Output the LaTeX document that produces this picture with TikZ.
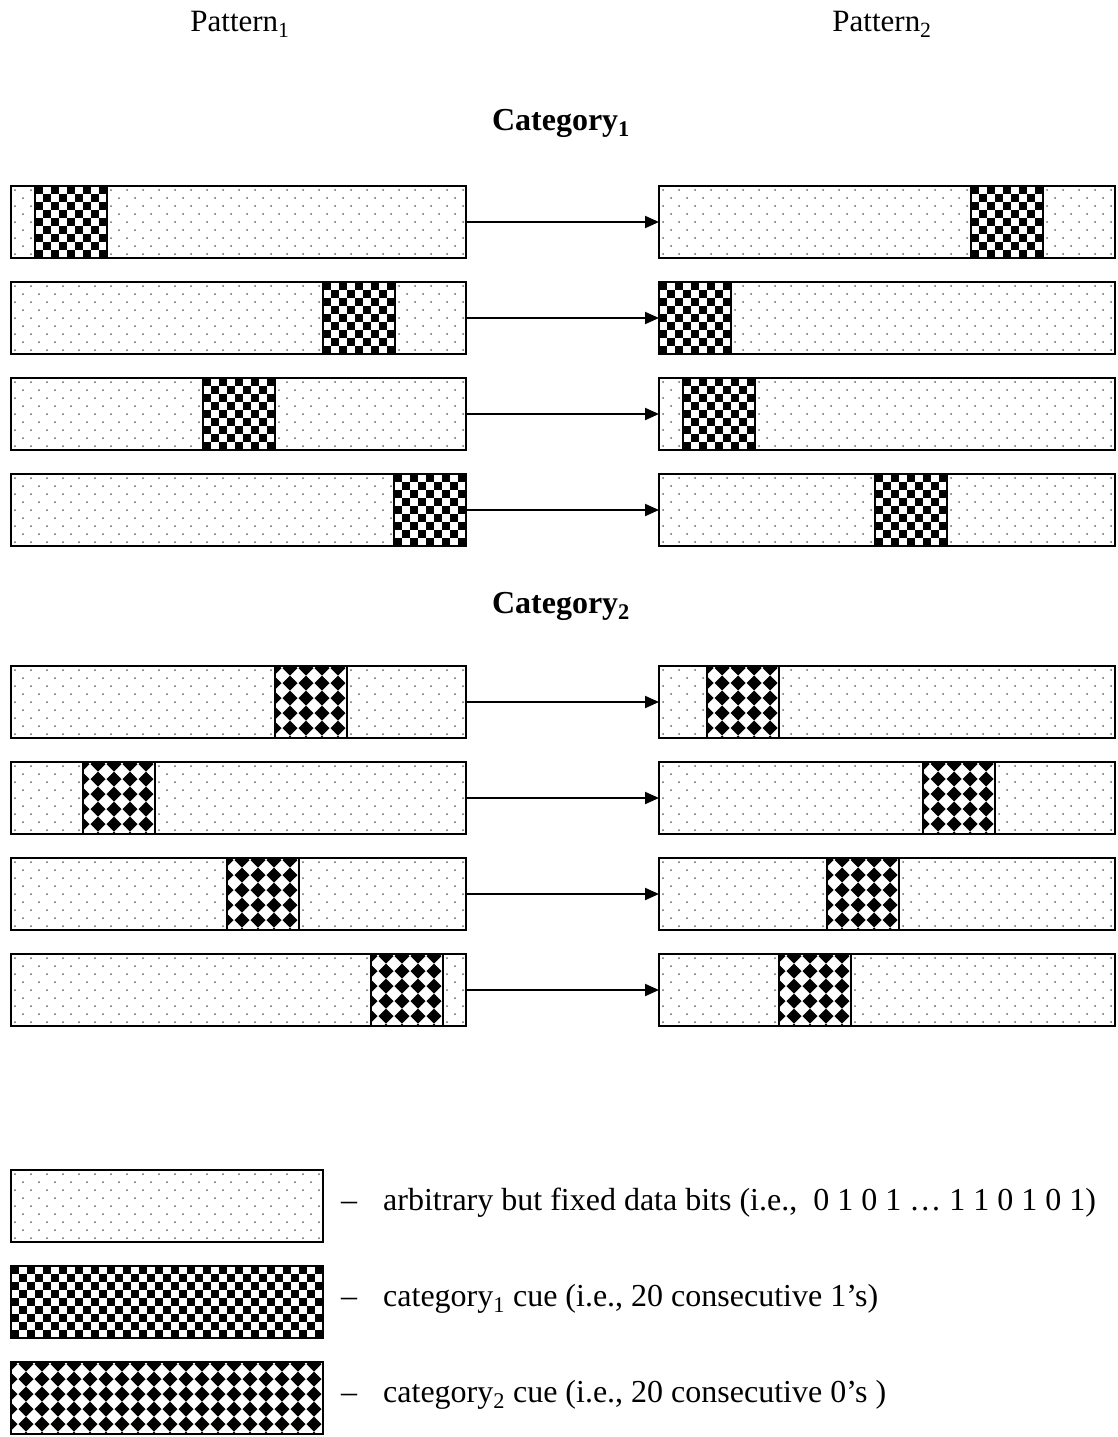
\documentclass[tikz,border=0pt]{standalone}
\usepackage{fontspec}
\setmainfont{Liberation Serif}
\usetikzlibrary{arrows.meta}
\tikzset{
  bord/.style={draw=black, line width=2pt},
  barbox/.style={rectangle, draw=black, line width=2pt, inner sep=0pt, outer sep=0pt, minimum height=72pt},
  arr/.style={line width=2pt, -{Triangle[length=14pt,width=12pt]}},
  dotc/.style={fill=black!60},
  lbl/.style={font=\fontsize{32}{38}\selectfont, inner sep=0pt},
  hdr/.style={font=\fontsize{31}{37}\selectfont, inner sep=0pt},
  cat/.style={font=\fontsize{32}{38}\selectfont\bfseries, inner sep=0pt},
}
% dotted background area: x0 y0 x1 y1
\newcommand{\dotsarea}[4]{%
  \begin{scope}
    \clip (#1,#2) rectangle (#3,#4);
    \fill[white] (#1,#2) rectangle (#3,#4);
    \foreach \j in {0,...,9}{%
      \pgfmathsetmacro{\off}{mod(\j,2)*8}
      \foreach \i in {0,...,29}{%
        \fill[dotc] ({#1+4+\off+16*\i},{#2+4+8*\j}) circle (1);
      }}
  \end{scope}}
% checkerboard: x y ncols
\newcommand{\checkcue}[3]{%
  \fill[white] (#1,#2) rectangle ++({8*#3},72);
  \foreach \i in {1,...,#3}{\foreach \j in {1,...,9}{%
    \pgfmathtruncatemacro{\k}{mod(\i+\j,2)}
    \ifnum\k=0 \fill[black] ({#1+8*(\i-1)},{#2+8*(\j-1)}) rectangle ++(8,8);\fi}}}
% diamonds: x y width ncols
\newcommand{\diamcue}[4]{%
  \begin{scope}
    \clip (#1,#2) rectangle ++({#3},72);
    \fill[white] (#1,#2) rectangle ++({#3},72);
    \foreach \i in {0,...,#4}{\foreach \j in {0,...,5}{%
      \fill[black] ({#1-1+16*\i},{#2+2+15*\j-7.5}) -- ++(7.5,7.5) -- ++(-7.5,7.5) -- ++(-7.5,-7.5) -- cycle;}}
  \end{scope}}
\newcommand{\ccue}[2]{\checkcue{#1}{#2}{9}}
\newcommand{\dcue}[2]{\diamcue{#1}{#2}{72}{5}}
% bar: name x0 width y0 cuex cuecmd
\newcommand{\patbar}[6]{%
  \dotsarea{#2}{#4}{#2+#3}{#4+72}
  #6{#5}{#4}
  \draw[bord] (#5,#4) rectangle ++(72,72);
  \node[barbox, minimum width=#3pt, anchor=north west] (#1) at (#2,#4) {};
}
\begin{document}
\begin{tikzpicture}[x=1pt,y=-1pt]
\useasboundingbox (0,0) rectangle (1118,1437);
\fill[white] (0,0) rectangle (1118,1437);

\node[hdr, anchor=base] (p1) at (240,32) {Pattern\textsubscript{1}};
\node[hdr, anchor=base] (p2) at (882,32) {Pattern\textsubscript{2}};
\node[cat, anchor=base] (c1) at (561,130) {Category\textsubscript{1}};
\node[cat, anchor=base] (c2) at (561,613) {Category\textsubscript{2}};

% Category 1
\patbar{l1}{11}{455}{186}{35}{\ccue}
\patbar{r1}{659}{456}{186}{971}{\ccue}
\patbar{l2}{11}{455}{282}{323}{\ccue}
\patbar{r2}{659}{456}{282}{659}{\ccue}
\patbar{l3}{11}{455}{378}{203}{\ccue}
\patbar{r3}{659}{456}{378}{683}{\ccue}
\patbar{l4}{11}{455}{474}{394}{\ccue}
\patbar{r4}{659}{456}{474}{875}{\ccue}
% Category 2
\patbar{l5}{11}{455}{666}{275}{\dcue}
\patbar{r5}{659}{456}{666}{707}{\dcue}
\patbar{l6}{11}{455}{762}{83}{\dcue}
\patbar{r6}{659}{456}{762}{923}{\dcue}
\patbar{l7}{11}{455}{858}{227}{\dcue}
\patbar{r7}{659}{456}{858}{827}{\dcue}
\patbar{l8}{11}{455}{954}{371}{\dcue}
\patbar{r8}{659}{456}{954}{779}{\dcue}

\foreach \n in {1,...,8}{\draw[arr] (l\n.east) -- (r\n.west);}

% legend
\dotsarea{11}{1170}{323}{1242}
\node[barbox, minimum width=312pt, anchor=north west] (g1) at (11,1170) {};
\checkcue{11}{1266}{39}
\node[barbox, minimum width=312pt, anchor=north west] (g2) at (11,1266) {};
\diamcue{11}{1362}{312}{20}
\node[barbox, minimum width=312pt, anchor=north west] (g3) at (11,1362) {};

\node[lbl, anchor=base] (d1) at (349,1210) {–};
\node[lbl, anchor=base west] (t1) at (383,1210) {arbitrary but fixed data bits (i.e.,\ \ 0 1 0 1 … 1 1 0 1 0 1)};
\node[lbl, anchor=base] (d2) at (349,1306) {–};
\node[lbl, anchor=base west] (t2) at (383,1306) {category\textsubscript{1} cue (i.e., 20 consecutive 1’s)};
\node[lbl, anchor=base] (d3) at (349,1402) {–};
\node[lbl, anchor=base west] (t3) at (383,1402) {category\textsubscript{2} cue (i.e., 20 consecutive 0’s )};
\end{tikzpicture}
\end{document}
